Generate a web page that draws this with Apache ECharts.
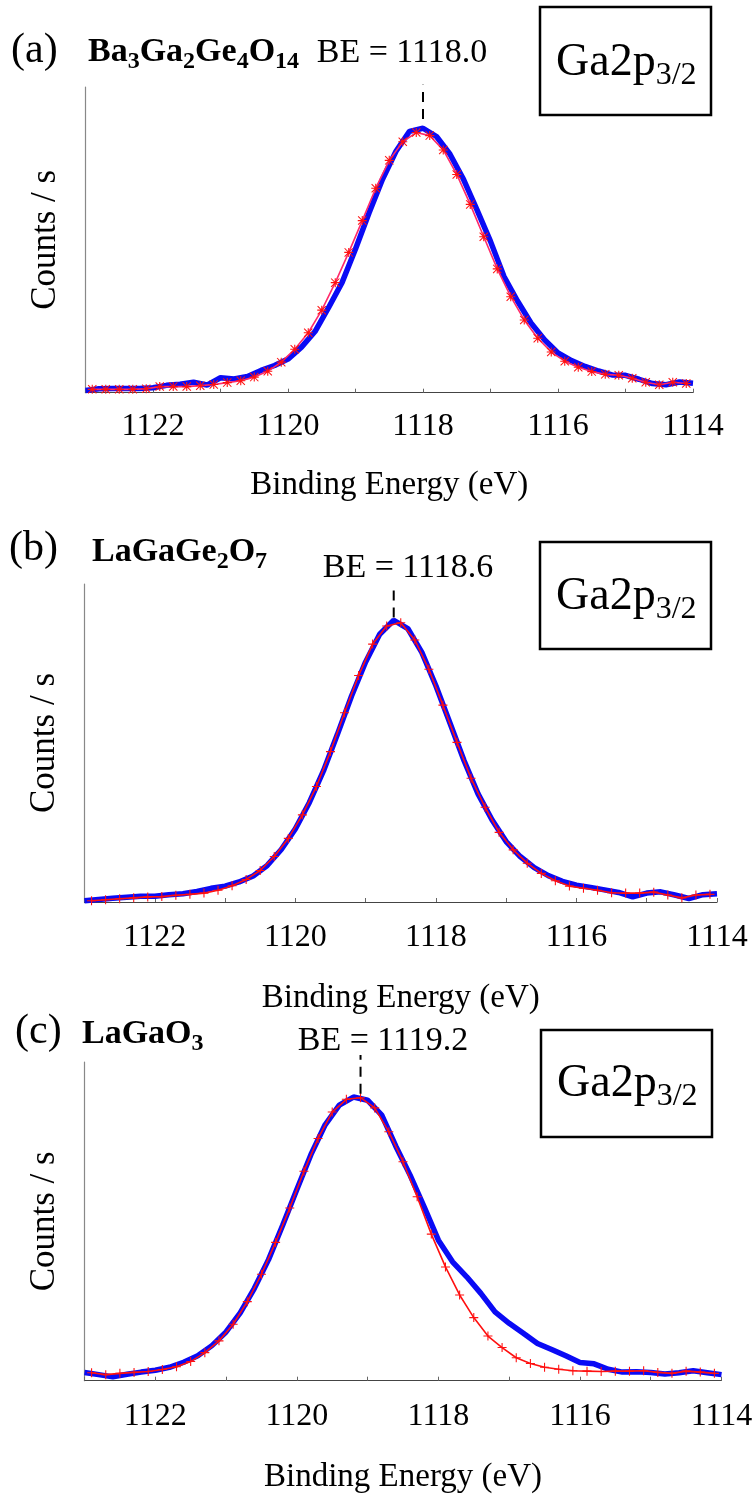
<!DOCTYPE html>
<html><head><meta charset="utf-8">
<script src="https://cdn.jsdelivr.net/npm/echarts@6/dist/echarts.min.js"></script>
<style>html,body{margin:0;padding:0;background:#fff}#c{width:756px;height:1495px}</style>
</head><body><div id="c"></div>
<script>
// Binding-energy grids (eV)
const fitE = [1122.9,1122.7,1122.5,1122.3,1122.1,1121.9,1121.7,1121.5,1121.3,1121.1,1120.9,1120.7,1120.5,1120.3,1120.1,1119.9,1119.7,1119.5,1119.3,1119.1,1118.9,1118.7,1118.5,1118.3,1118.1,1117.9,1117.7,1117.5,1117.3,1117.1,1116.9,1116.7,1116.5,1116.3,1116.1,1115.9,1115.7,1115.5,1115.3,1115.1,1114.9,1114.7,1114.5,1114.3,1114.1];
const rawE = [1123.0,1122.8,1122.6,1122.4,1122.2,1122.0,1121.8,1121.6,1121.4,1121.2,1121.0,1120.8,1120.6,1120.4,1120.2,1120.0,1119.8,1119.6,1119.4,1119.2,1119.0,1118.8,1118.6,1118.4,1118.2,1118.0,1117.8,1117.6,1117.4,1117.2,1117.0,1116.8,1116.6,1116.4,1116.2,1116.0,1115.8,1115.6,1115.4,1115.2,1115.0,1114.8,1114.6,1114.4,1114.2,1114.0];

// (a) Ba3Ga2Ge4O14
const rawA = [0.7,1.3,1.4,1.4,1.4,1.6,2.4,2.8,3.4,2.5,4.9,4.5,5.3,7.3,8.9,11.0,14.9,20.0,27.8,36.0,47.0,58.8,69.8,79.0,85.5,86.5,83.8,78.0,69.8,59.8,49.5,38.0,30.0,22.8,17.3,13.0,10.5,8.6,7.1,5.8,5.7,4.4,3.0,2.6,3.5,3.1];
const fitA = [1.1,1.1,1.1,1.1,1.3,2.0,2.0,2.0,2.3,2.7,3.3,3.9,5.1,7.0,10.0,14.2,19.6,27.0,36.0,45.9,56.3,66.9,76.0,82.1,85.1,84.1,79.4,71.4,61.6,51.0,40.5,31.4,23.8,17.8,13.3,10.3,8.3,6.9,6.0,5.7,4.7,3.4,2.6,3.4,3.0];
// (b) LaGaGe2O7
const rawB = [0.4,0.8,1.2,1.5,1.8,1.8,2.3,2.6,3.3,4.3,5.0,6.3,8.2,11.5,16.5,23.0,31.3,41.2,52.8,64.8,75.5,84.2,88.6,86.0,78.5,68.0,56.3,44.5,34.0,25.8,19.0,14.3,10.8,8.3,6.5,5.3,4.6,3.8,3.0,1.6,2.8,3.2,2.2,1.1,2.3,2.6];
const fitB = [0.4,0.7,1.0,1.3,1.6,1.7,2.1,2.4,2.8,3.7,5.1,7.1,9.9,14.3,20.0,27.4,36.3,47.3,59.5,71.2,81.1,86.8,87.8,82.4,73.2,61.9,50.2,38.9,29.8,21.9,16.4,12.2,9.0,6.7,5.0,4.3,3.7,2.9,2.8,2.8,3.1,2.2,1.3,2.2,2.4];
// (c) LaGaO3
const rawC = [2.6,1.9,1.2,2.0,2.7,3.3,4.2,5.8,7.8,11.0,15.3,21.3,29.0,38.0,48.8,60.0,71.0,80.3,86.5,89.0,88.0,83.3,73.5,64.5,54.5,44.1,37.3,32.6,27.4,21.6,18.0,14.9,11.7,9.8,7.8,5.7,5.3,3.6,2.7,2.8,2.6,2.1,2.5,3.1,2.5,1.9];
const fitC = [2.5,1.9,2.3,2.6,2.9,3.5,4.4,6.0,8.8,12.5,17.7,24.8,33.4,43.4,54.2,65.7,76.0,84.3,88.3,88.8,85.6,78.1,68.7,57.7,46.0,35.7,26.9,19.8,14.0,10.4,7.2,5.4,4.2,3.6,3.1,3.0,2.9,3.0,3.0,3.1,2.6,2.3,3.0,2.7,2.3];

const peakBE = [1118.0, 1118.6, 1119.1];
const beLabels = ['BE = 1118.0', 'BE = 1118.6', 'BE = 1119.2'];
const panelLetters = ['(a)', '(b)', '(c)'];
const formulas = [
  [['Ba',0],['3',1],['Ga',0],['2',1],['Ge',0],['4',1],['O',0],['14',1]],
  [['LaGaGe',0],['2',1],['O',0],['7',1]],
  [['LaGaO',0],['3',1]]
];
const xTickValues = [1122, 1120, 1118, 1116, 1114];

const SERIF = '"Liberation Serif","Times New Roman",serif';
const grids = [
  {left: 85.5, top: 87, width: 607.5, height: 305.7},
  {left: 84.5, top: 584, width: 632.5, height: 318},
  {left: 84.5, top: 1062, width: 637, height: 318.7}
];
const layout = [
  {letter:[11,51], formula:[88,52], be:[402,53], box:[540,7,171,108], gp:[556,63]},
  {letter:[9,549], formula:[92,552], be:[408,568], box:[540,542,171,107], gp:[556,597]},
  {letter:[15,1032], formula:[82,1034], be:[383,1041], box:[541,1030,171,107], gp:[557,1084]}
];
const rawSets = [rawA, rawB, rawC];
const fitSets = [fitA, fitB, fitC];

const ctx = document.createElement('canvas').getContext('2d');
function w(text, font){ ctx.font = font; return ctx.measureText(text).width; }

const starPath = 'path://M4.4,0h1.2v10h-1.2z M0,4.4h10v1.2h-10z M0.8,0L10,9.2L9.2,10L0,0.8z M9.2,0L10,0.8L0.8,10L0,9.2z';
const plusPath = 'path://M4.4,0h1.2v10h-1.2z M0,4.4h10v1.2h-10z';

const graphic = [];
layout.forEach((L, p) => {
  graphic.push({type:'text', x:L.letter[0], y:L.letter[1], z:10,
    style:{text:panelLetters[p], font:'42px '+SERIF, fill:'#000', align:'left', verticalAlign:'middle'}});
  let cx = L.formula[0];
  formulas[p].forEach(([t, sub]) => {
    const f = sub ? 'bold 24px '+SERIF : 'bold 34px '+SERIF;
    graphic.push({type:'text', x:cx, y:L.formula[1] + (sub ? 10 : 0), z:10,
      style:{text:t, font:f, fill:'#000', align:'left', verticalAlign:'middle'}});
    cx += w(t, f);
  });
  graphic.push({type:'text', x:L.be[0], y:L.be[1], z:10,
    style:{text:beLabels[p], font:'34px '+SERIF, fill:'#000', align:'center', verticalAlign:'middle'}});
  graphic.push({type:'rect', z:10, shape:{x:L.box[0], y:L.box[1], width:L.box[2], height:L.box[3]},
    style:{fill:'#fff', stroke:'#000', lineWidth:2.5}});
  const f1 = '46px '+SERIF, f2 = '32px '+SERIF;
  graphic.push({type:'text', x:L.gp[0], y:L.gp[1], z:11,
    style:{text:'Ga2p', font:f1, fill:'#000', align:'left', verticalAlign:'middle'}});
  graphic.push({type:'text', x:L.gp[0] + w('Ga2p', f1), y:L.gp[1] + 13, z:11,
    style:{text:'3/2', font:f2, fill:'#000', align:'left', verticalAlign:'middle'}});
});

const xAxes = grids.map((g, i) => ({
  gridIndex: i, type:'value', min:1114, max:1123, interval:1, inverse:true,
  name:'Binding Energy (eV)', nameLocation:'middle', nameGap: i===0 ? 76 : 80,
  nameTextStyle:{fontFamily:SERIF, fontSize:33, color:'#000'},
  axisLine:{show:true, lineStyle:{color:'#444', width:1.2}},
  axisTick:{show:true, inside:true, length:4, lineStyle:{color:'#666'}},
  splitLine:{show:false},
  axisLabel:{fontFamily:SERIF, fontSize:32, color:'#000', margin: i===0 ? 18 : 20,
    formatter: v => (xTickValues.indexOf(v) >= 0 ? String(v) : '')}
}));
const yAxes = grids.map((g, i) => ({
  gridIndex: i, type:'value', min:0, max:100,
  name:'Counts / s', nameLocation:'middle', nameGap:22, nameRotate:90,
  nameTextStyle:{fontFamily:SERIF, fontSize:35, color:'#000'},
  axisLine:{show:true, lineStyle:{color:'#888', width:1.2}},
  axisTick:{show:false}, axisLabel:{show:false}, splitLine:{show:false}
}));

const series = [];
for (let p = 0; p < 3; p++) {
  series.push({type:'line', xAxisIndex:p, yAxisIndex:p, z:2,
    data: rawE.map((e, i) => [e, rawSets[p][i]]),
    symbol:'none', lineStyle:{color:'#0a0af5', width:5.5}, silent:true});
  series.push({type:'line', xAxisIndex:p, yAxisIndex:p, z:3,
    data: fitE.map((e, i) => [e, fitSets[p][i]]),
    symbol: p === 0 ? starPath : plusPath, symbolSize: 9,
    itemStyle:{color:'#ff1010'},
    lineStyle:{color: p === 0 ? '#ff2a6a' : '#ff1010', width:1.6}, silent:true});
  series.push({type:'line', xAxisIndex:p, yAxisIndex:p, z:4, clip:false,
    data: [[peakBE[p], [89.5, 89.5, 90][p]], [peakBE[p], [100.7, 99, 102.2][p]]],
    symbol:'none', lineStyle:{color:'#000', width:2, type:[10,7]}, silent:true});
}

const chart = echarts.init(document.getElementById('c'), null, {renderer:'canvas'});
chart.setOption({
  animation:false, backgroundColor:'#fff',
  grid: grids.map(g => Object.assign({containLabel:false}, g)),
  xAxis: xAxes, yAxis: yAxes, series, graphic
});
</script></body></html>
